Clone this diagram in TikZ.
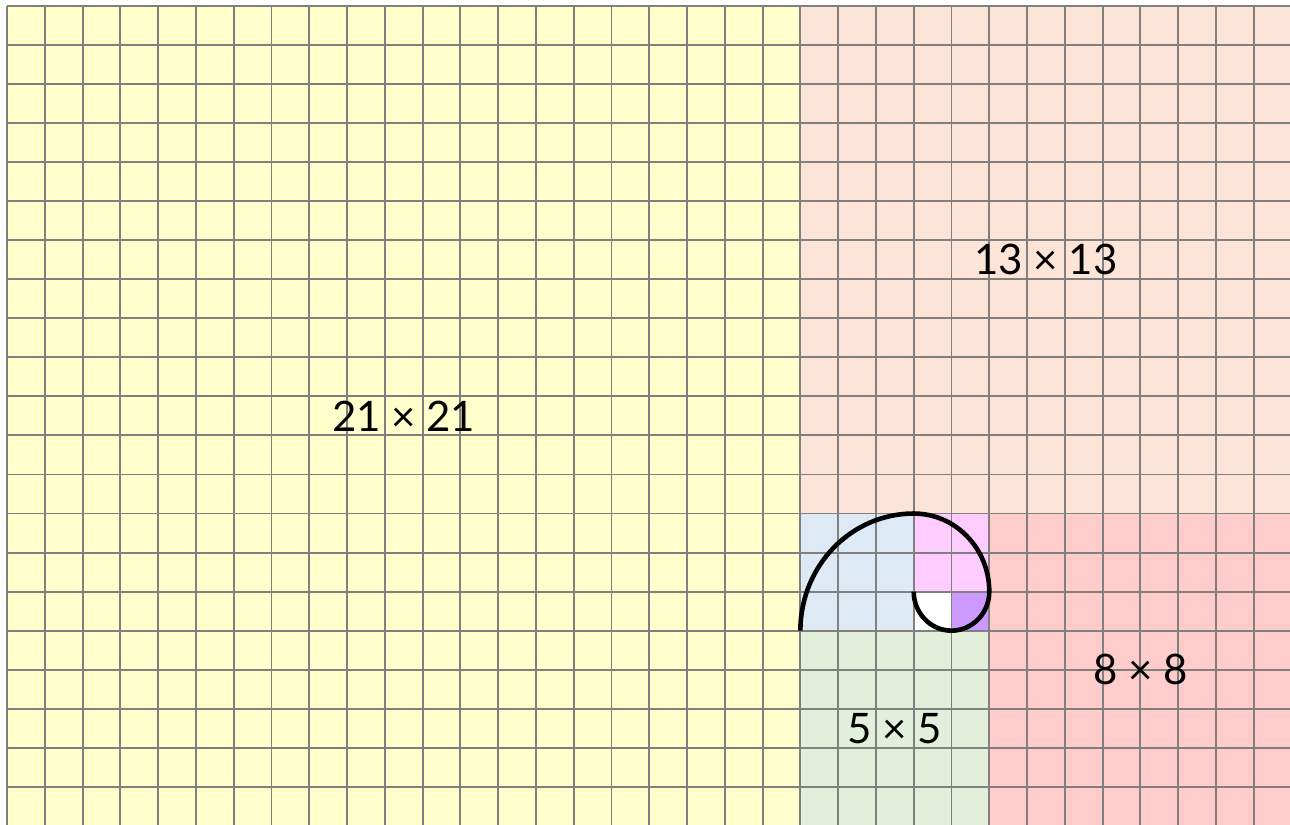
\documentclass[tikz,border=0pt]{standalone}
\usepackage{fontspec}
\setmainfont{Lato}
\definecolor{cyellow}{HTML}{FFFFCC}
\definecolor{cpeach}{HTML}{FCE4D6}
\definecolor{cblue}{HTML}{DDE9F5}
\definecolor{cpink}{HTML}{FFCCFF}
\definecolor{cpurple}{HTML}{CC99FF}
\definecolor{cgreen}{HTML}{E2EFDA}
\definecolor{cred}{HTML}{FFCCCC}
\definecolor{cgrid}{HTML}{808080}
\begin{document}
\begin{tikzpicture}[x=37.78pt,y=-39.04pt,
  gridline/.style={draw=cgrid,line width=1.9pt},
  spiral/.style={draw=black,line width=4.6pt},
  lbl/.style={font=\fontsize{42}{50}\selectfont,text=black,inner sep=0pt}]
\useasboundingbox (-0.1853,-0.1537) rectangle (33.96,20.96);
\clip (-0.1853,-0.1537) rectangle (33.96,20.96);
% squares
\fill[cyellow] (0,0) rectangle (21,21);
\fill[cpeach] (21,0) rectangle (34,13);
\fill[cblue] (21,13) rectangle (24,16);
\fill[cpink] (24,13) rectangle (26,15);
\fill[white] (24,15) rectangle (25,16);
\fill[cpurple] (25,15) rectangle (26,16);
\fill[cgreen] (21,16) rectangle (26,21);
\fill[cred] (26,13) rectangle (34,21);
% grid
\foreach \i in {0,...,34} \draw[gridline] (\i,0) -- (\i,21);
\foreach \j in {0,...,21} \draw[gridline] (0,\j) -- (34,\j);
% spiral
\coordinate (s0) at (21,16);
\draw[spiral] (s0) arc[start angle=180,end angle=90,x radius=113.34pt,y radius=117.12pt]
  arc[start angle=90,end angle=0,x radius=75.56pt,y radius=78.08pt]
  arc[start angle=0,end angle=-180,x radius=37.78pt,y radius=39.04pt];
% labels
\node[lbl] (l21) at (10.5,10.5) {21 × 21};
\node[lbl] (l13) at (27.5,6.5) {13 × 13};
\node[lbl] (l8) at (30,17) {8 × 8};
\node[lbl] (l5) at (23.5,18.5) {5 × 5};
\end{tikzpicture}
\end{document}
